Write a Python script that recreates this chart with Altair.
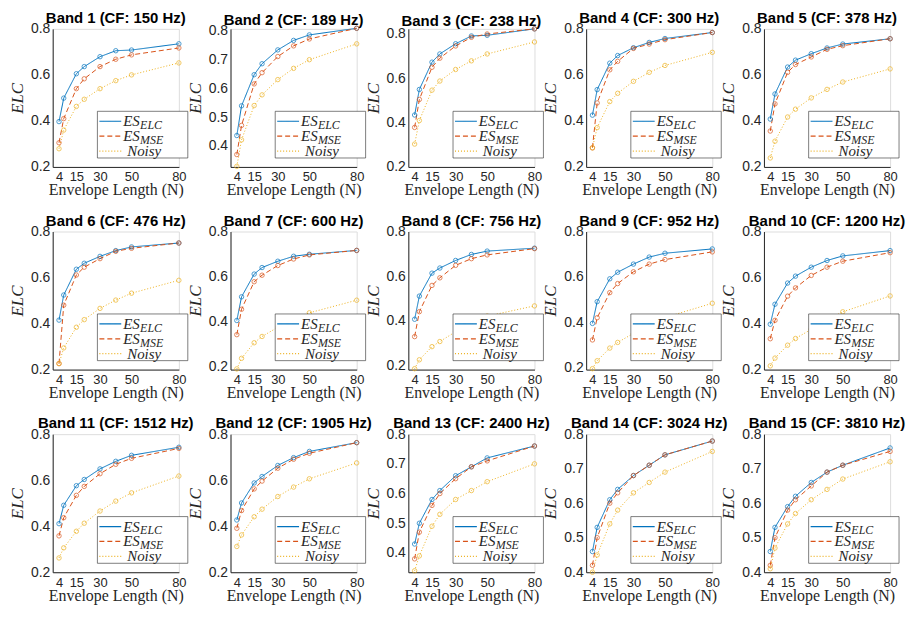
import altair as alt
import pandas as pd

N_VALUES = [4, 7, 15, 20, 30, 40, 50, 80]
CF_HZ = [150, 189, 238, 300, 378, 476, 600, 756, 952, 1200, 1512, 1905, 2400, 3024, 3810]

ES_ELC = [
    [0.397, 0.499, 0.605, 0.636, 0.679, 0.705, 0.708, 0.735],
    [0.436, 0.539, 0.647, 0.685, 0.733, 0.766, 0.785, 0.808],
    [0.434, 0.549, 0.672, 0.709, 0.755, 0.790, 0.793, 0.822],
    [0.425, 0.536, 0.651, 0.684, 0.718, 0.741, 0.758, 0.784],
    [0.408, 0.517, 0.634, 0.664, 0.692, 0.717, 0.734, 0.757],
    [0.415, 0.524, 0.636, 0.662, 0.692, 0.717, 0.733, 0.750],
    [0.405, 0.510, 0.611, 0.640, 0.668, 0.690, 0.699, 0.716],
    [0.406, 0.510, 0.613, 0.636, 0.670, 0.697, 0.712, 0.725],
    [0.394, 0.490, 0.591, 0.620, 0.656, 0.687, 0.704, 0.723],
    [0.397, 0.484, 0.576, 0.606, 0.645, 0.674, 0.694, 0.717],
    [0.411, 0.491, 0.576, 0.603, 0.649, 0.682, 0.708, 0.743],
    [0.427, 0.501, 0.588, 0.616, 0.664, 0.698, 0.725, 0.763],
    [0.430, 0.500, 0.580, 0.610, 0.660, 0.690, 0.720, 0.760],
    [0.460, 0.530, 0.610, 0.640, 0.680, 0.710, 0.740, 0.780],
    [0.460, 0.530, 0.590, 0.620, 0.660, 0.690, 0.710, 0.760],
]

ES_MSE = [
    [0.305, 0.410, 0.540, 0.583, 0.636, 0.668, 0.687, 0.717],
    [0.370, 0.471, 0.615, 0.654, 0.710, 0.747, 0.771, 0.808],
    [0.378, 0.504, 0.649, 0.690, 0.745, 0.784, 0.799, 0.822],
    [0.283, 0.478, 0.622, 0.659, 0.715, 0.734, 0.753, 0.784],
    [0.356, 0.474, 0.611, 0.645, 0.678, 0.711, 0.727, 0.757],
    [0.226, 0.480, 0.611, 0.645, 0.682, 0.714, 0.727, 0.750],
    [0.342, 0.455, 0.577, 0.606, 0.649, 0.678, 0.696, 0.716],
    [0.328, 0.440, 0.558, 0.592, 0.648, 0.678, 0.695, 0.723],
    [0.321, 0.419, 0.530, 0.570, 0.622, 0.656, 0.676, 0.710],
    [0.334, 0.414, 0.519, 0.555, 0.609, 0.645, 0.671, 0.708],
    [0.358, 0.437, 0.534, 0.573, 0.628, 0.669, 0.695, 0.738],
    [0.391, 0.468, 0.562, 0.596, 0.652, 0.691, 0.717, 0.763],
    [0.380, 0.470, 0.560, 0.600, 0.650, 0.690, 0.710, 0.760],
    [0.420, 0.500, 0.600, 0.630, 0.680, 0.710, 0.740, 0.780],
    [0.420, 0.500, 0.580, 0.610, 0.650, 0.690, 0.710, 0.750],
]

NOISY = [
    [0.279, 0.360, 0.463, 0.494, 0.540, 0.575, 0.600, 0.652],
    [0.329, 0.421, 0.540, 0.577, 0.630, 0.669, 0.699, 0.754],
    [0.303, 0.409, 0.546, 0.587, 0.639, 0.678, 0.709, 0.763],
    [0.283, 0.371, 0.484, 0.520, 0.572, 0.611, 0.641, 0.698],
    [0.239, 0.312, 0.417, 0.451, 0.500, 0.537, 0.569, 0.626],
    [0.226, 0.294, 0.384, 0.417, 0.466, 0.502, 0.532, 0.588],
    [0.190, 0.237, 0.306, 0.334, 0.375, 0.410, 0.439, 0.495],
    [0.184, 0.224, 0.283, 0.306, 0.350, 0.390, 0.420, 0.466],
    [0.194, 0.229, 0.285, 0.310, 0.350, 0.390, 0.420, 0.483],
    [0.216, 0.250, 0.306, 0.335, 0.375, 0.415, 0.451, 0.520],
    [0.262, 0.306, 0.378, 0.413, 0.466, 0.509, 0.545, 0.618],
    [0.312, 0.362, 0.441, 0.474, 0.529, 0.570, 0.606, 0.675],
    [0.340, 0.390, 0.490, 0.530, 0.580, 0.610, 0.640, 0.700],
    [0.400, 0.450, 0.540, 0.580, 0.630, 0.660, 0.690, 0.750],
    [0.410, 0.470, 0.540, 0.570, 0.610, 0.640, 0.670, 0.720],
]

Y_MIN = [0.2, 0.327, 0.2, 0.2, 0.2, 0.2, 0.187, 0.18, 0.19, 0.2, 0.2, 0.2, 0.335, 0.4, 0.4]
Y_MAX = [0.8, 0.806, 0.822, 0.8, 0.8, 0.8, 0.8, 0.8, 0.8, 0.8, 0.8, 0.8, 0.8, 0.8, 0.8]
TICKS_02 = [0.2, 0.4, 0.6, 0.8]
TICKS_01 = [0.4, 0.5, 0.6, 0.7, 0.8]
Y_TICKS = [TICKS_02, TICKS_01, TICKS_02, TICKS_02, TICKS_02,
           TICKS_02, TICKS_02, TICKS_02, TICKS_02, TICKS_02,
           TICKS_02, TICKS_02, TICKS_01, TICKS_01, TICKS_01]
X_TICKS = [4, 15, 30, 50, 80]

SERIES = ["ES_ELC", "ES_MSE", "Noisy"]
COLORS = ["#0072BD", "#D95319", "#EDB120"]
DASHES = [[1, 0], [5, 3], [1, 2]]

W, H = 127, 139
AX = "#262626"
SANS = "Liberation Sans"
SERIF = "Liberation Serif"

one = pd.DataFrame({"k": [0]})


def legend_layers():
    layers = []
    layers.append(
        alt.Chart(one).mark_rect(fill="white", stroke=AX, strokeWidth=0.6).encode(
            x=alt.value(45), x2=alt.value(136), y=alt.value(83), y2=alt.value(130)
        )
    )
    ys = [93, 108, 123]
    for s, c, d, yy in zip(SERIES, COLORS, DASHES, ys):
        layers.append(
            alt.Chart(one).mark_rule(color=c, strokeWidth=1.2, strokeDash=d).encode(
                x=alt.value(47), x2=alt.value(69), y=alt.value(yy)
            )
        )
    for main, sub, yy in [("ES", "ELC", ys[0]), ("ES", "MSE", ys[1])]:
        layers.append(
            alt.Chart(one).mark_text(text=main, font=SERIF, fontStyle="italic", fontSize=15,
                                     align="left", baseline="middle", color=AX).encode(
                x=alt.value(71), y=alt.value(yy)
            )
        )
        layers.append(
            alt.Chart(one).mark_text(text=sub, font=SERIF, fontStyle="italic", fontSize=12,
                                     align="left", baseline="middle", color=AX).encode(
                x=alt.value(88), y=alt.value(yy + 4)
            )
        )
    layers.append(
        alt.Chart(one).mark_text(text="Noisy", font=SERIF, fontStyle="italic", fontSize=15,
                                 align="left", baseline="middle", color=AX).encode(
            x=alt.value(75), y=alt.value(ys[2])
        )
    )
    return layers


def panel(i):
    rows = []
    for s, vals in zip(SERIES, [ES_ELC[i], ES_MSE[i], NOISY[i]]):
        for n, v in zip(N_VALUES, vals):
            rows.append({"N": n, "ELC": v, "series": s})
    df = pd.DataFrame(rows)
    x = alt.X("N:Q", scale=alt.Scale(domain=[0, 80], nice=False, zero=False),
              axis=alt.Axis(values=X_TICKS, title="Envelope Length (N)", titleFont=SERIF,
                            titleFontSize=16, titleFontWeight="normal", titleColor=AX,
                            labelFont=SANS, labelFontSize=13, labelColor=AX, labelFlush=False,
                            labelOverlap=False, labelPadding=4, titlePadding=-2,
                            grid=False, ticks=False, domainColor=AX))
    y = alt.Y("ELC:Q", scale=alt.Scale(domain=[Y_MIN[i], Y_MAX[i]], nice=False, zero=False),
              axis=alt.Axis(values=Y_TICKS[i], format=".1f", title="ELC", titleFont=SERIF,
                            titleFontStyle="italic", titleFontWeight="normal", titleFontSize=17,
                            titleColor=AX, labelFont=SANS, labelFontSize=14, labelColor=AX,
                            labelPadding=3, titlePadding=4, grid=False, ticks=False,
                            domainColor=AX))
    color = alt.Color("series:N", scale=alt.Scale(domain=SERIES, range=COLORS), legend=None)
    dash = alt.StrokeDash("series:N", scale=alt.Scale(domain=SERIES, range=DASHES), legend=None)
    base = alt.Chart(df).encode(x=x, y=y, color=color)
    lines = base.mark_line(strokeWidth=1).encode(strokeDash=dash)
    pts = base.mark_point(shape="circle", filled=False, size=20, strokeWidth=1)
    title = alt.TitleParams(f"Band {i + 1} (CF: {CF_HZ[i]} Hz)", font=SANS, fontSize=15,
                            fontWeight="bold", color="black", offset=-4, anchor="middle",
                            frame="group")
    return alt.layer(lines, pts, *legend_layers()).properties(width=W, height=H, title=title)


chart = alt.concat(*[panel(i) for i in range(15)], columns=5, bounds="flush",
                   spacing={"row": 65, "column": 52}).configure_view(stroke=None).configure(
    background="white", padding=0
)

chart.save("out.html", embed_options={"renderer": "svg", "actions": False})
